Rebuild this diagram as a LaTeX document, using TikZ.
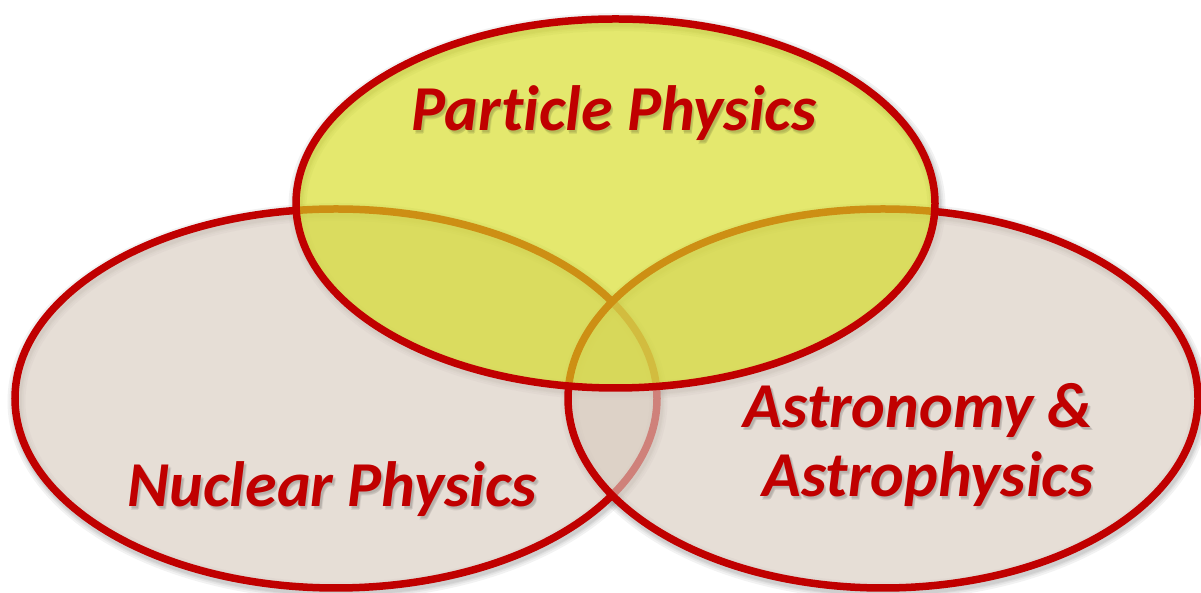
\documentclass[tikz,border=0pt]{standalone}
\usepackage{fontspec}
\setmainfont{Carlito}[Ligatures={NoCommon}]
\usetikzlibrary{shapes.geometric}
\definecolor{vred}{RGB}{192,0,0}
\definecolor{beige}{RGB}{216,203,191}
\definecolor{pyellow}{RGB}{213,220,32}
\tikzset{
  venn/.style={ellipse, inner sep=0pt, outer sep=0pt, line width=7.5pt, draw=vred},
  lbl/.style={font=\fontsize{64}{70}\selectfont\bfseries\itshape, text=vred, inner sep=0pt, anchor=base},
  tshadow/.style={lbl, text=black, text opacity=0.07},
  eshadow/.style={draw=black, draw opacity=0.05, fill=none},
}
\begin{document}
\begin{tikzpicture}[x=1pt,y=1pt]
\useasboundingbox (0,0) rectangle (1201,593);
% soft shadows of the ellipse outlines
\foreach \w in {18,14,11,9}{
  \draw[eshadow, line width=\w pt] (337.5,191.5) ellipse [x radius=321, y radius=189.5];
  \draw[eshadow, line width=\w pt] (884.5,191.5) ellipse [x radius=315, y radius=189.5];
  \draw[eshadow, line width=\w pt] (617,386.5) ellipse [x radius=319.5, y radius=184.5];
}
% the three sets
\node[venn, fill=beige, fill opacity=0.64, minimum width=642pt, minimum height=379pt] (nuc) at (336,194.5) {};
\node[venn, fill=beige, fill opacity=0.64, minimum width=630pt, minimum height=379pt] (ast) at (883,194.5) {};
\node[venn, fill=pyellow, fill opacity=0.65, minimum width=639pt, minimum height=369pt] (par) at (615.5,389.5) {};
% label shadows
\foreach \dx/\dy in {1.5/-2,2.5/-3,2/-3.5}{
  \node[tshadow] at (614+\dx,462+\dy) {Particle Physics};
  \node[tshadow] at (332.5+\dx,86+\dy) {Nuclear Physics};
  \node[tshadow] at (918.5+\dx,165.5+\dy) {Astronomy \&};
  \node[tshadow] at (928+\dx,96+\dy) {Astrophysics};
}
% labels
\node[lbl] (tpar) at (614,462) {Particle Physics};
\node[lbl] (tnuc) at (332.5,86) {Nuclear Physics};
\node[lbl] (tast1) at (918.5,165.5) {Astronomy \&};
\node[lbl] (tast2) at (928,96) {Astrophysics};
\end{tikzpicture}
\end{document}
